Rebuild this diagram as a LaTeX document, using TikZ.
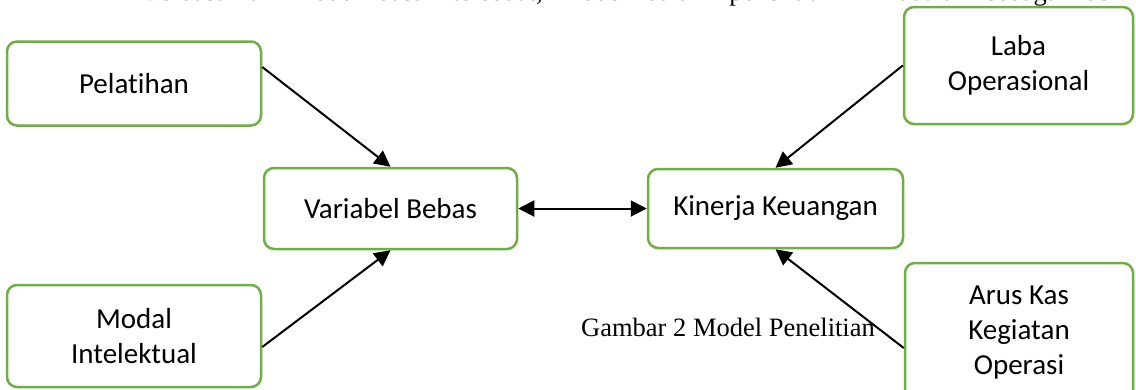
\documentclass[tikz,border=0pt]{standalone}
\usepackage{fontspec}
\setmainfont{Liberation Serif}
\newfontfamily\boxfont[Ligatures={NoCommon}]{Carlito}
\usetikzlibrary{arrows.meta,calc}
\definecolor{boxgreen}{RGB}{112,173,71}
\tikzset{
  varbox/.style={draw=boxgreen, line width=2.5pt, rounded corners=10pt, fill=white,
    align=center, inner sep=0pt,
    font=\boxfont\fontsize{29}{35}\selectfont},
  link/.style={line width=2pt, -{Triangle[length=16pt,width=16pt]}},
  biglink/.style={line width=2pt, {Triangle[length=16pt,width=16pt]}-{Triangle[length=16pt,width=16pt]}},
  bodytext/.style={inner sep=0pt, font=\fontsize{26.5}{32}\selectfont}
}
\begin{document}
\begin{tikzpicture}[x=1pt, y=-1pt]
  \useasboundingbox (0,0) rectangle (1136,389);

  % paragraph line above the figure (runs off the top edge)
  \node[bodytext, anchor=base west] (para) at (142,0)
    {\spaceskip=18.5pt Berdasarkan model dasar tersebut, model dalam penelitian ini adalah sebagai berikut};

  % variable boxes
  \node[varbox, minimum width=254pt, minimum height=84pt]  (pel)   at (134,83.5)   {Pelatihan};
  \node[varbox, minimum width=254pt, minimum height=102pt] (modal) at (134,336)    {Modal\\Intelektual};
  \node[varbox, minimum width=253pt, minimum height=81pt]  (bebas) at (390.5,208.5) {Variabel Bebas};
  \node[varbox, minimum width=255pt, minimum height=79pt]  (kin)   at (775.5,208.5) {Kinerja Keuangan};
  \node[varbox, minimum width=229pt, minimum height=117pt] (laba)  at (1018.5,65.5) {Laba\\Operasional};
  \node[varbox, minimum width=228pt, minimum height=140pt] (arus)  at (1019,333)   {Arus Kas\\Kegiatan\\Operasi};

  % caption
  \node[bodytext, anchor=base west] (cap) at (581,336) {Gambar 2 Model Penelitian};

  % connectors
  \coordinate (pelout)   at ($(pel.east)+(0,-16.5)$);
  \coordinate (modalout) at ($(modal.east)+(0,11)$);
  \coordinate (arusout)  at ($(arus.west)+(0,15)$);
  \draw[link] (pelout) -- (bebas.north);
  \draw[link] (modalout) -- (bebas.south);
  \draw[link] (laba.west) -- (kin.north);
  \draw[link] (arusout) -- (kin.south);
  \draw[biglink] (bebas.east) -- (kin.west);
\end{tikzpicture}
\end{document}
